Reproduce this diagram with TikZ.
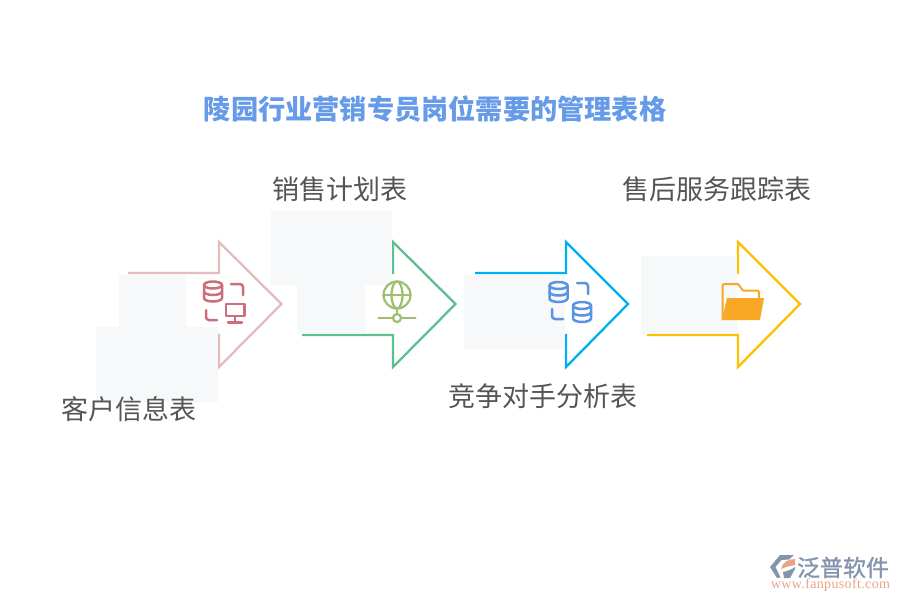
\documentclass[tikz,border=0pt]{standalone}
\usepackage{fontspec}
\setmainfont{Noto Sans CJK SC}
\newfontfamily\logoserif{Liberation Serif}
\newfontfamily\logofont[FakeBold=1.2]{Noto Sans CJK SC}
\definecolor{pa}{HTML}{E3BDBD}
\definecolor{pb}{HTML}{5CC08F}
\definecolor{pc}{HTML}{00B0F0}
\definecolor{pd}{HTML}{FFC000}
\definecolor{ired}{HTML}{CC6F7A}
\definecolor{igreen}{HTML}{9DC06F}
\definecolor{iblue}{HTML}{5B93E3}
\definecolor{iorange}{HTML}{F9A825}
\definecolor{patch}{HTML}{F6F8FA}
\definecolor{titlec}{HTML}{659BE8}
\definecolor{labelc}{HTML}{555555}
\definecolor{logob}{HTML}{8494AC}
\definecolor{logoo}{HTML}{E8A585}
\tikzset{
  arrowline/.style={line width=2.3pt,miter limit=10,line join=miter},
  patchbox/.style={fill=patch,draw=none},
  iconline/.style={line width=2.5pt,line cap=round,line join=round},
  lab/.style={font=\fontsize{27}{30}\selectfont,text=labelc,inner sep=0pt},
  titlelab/.style={font=\fontsize{27.2}{30}\selectfont\bfseries,text=titlec,inner sep=0pt},
}
\newcommand{\dbicon}[3]{% centre x, top y, colour
  \begin{scope}[shift={(#1,#2)},iconline,draw=#3]
    \draw (-9,3.5) arc[x radius=9,y radius=3.5,start angle=180,end angle=-180];
    \draw (-9,3.5) -- (-9,16.5) arc[x radius=9,y radius=3.5,start angle=180,end angle=0] -- (9,3.5);
    \draw (-9,10) arc[x radius=9,y radius=3.5,start angle=180,end angle=0];
  \end{scope}}
\begin{document}
\begin{tikzpicture}[x=1pt,y=-1pt]
\useasboundingbox (0,0) rectangle (900,600);
\fill[white] (0,0) rectangle (900,600);

% arrows
\draw[arrowline,pa] (128,273) -- (219,273) -- (219,242) -- (281.5,304) -- (219,367) -- (219,335) -- (128,335);
\draw[arrowline,pb] (302,273) -- (393,273) -- (393,242) -- (455.5,304) -- (393,367) -- (393,335) -- (302,335);
\draw[arrowline,pc] (475,273) -- (566,273) -- (566,242) -- (628,304) -- (566,367) -- (566,335) -- (475,335);
\draw[arrowline,pd] (647,273) -- (738,273) -- (738,242) -- (800,304) -- (738,367) -- (738,335) -- (647,335);

% pale patches
\fill[patchbox] (119,275) rectangle (186,327);
\fill[patchbox] (96,327) rectangle (218,402);
\fill[patchbox] (271,210) rectangle (392,286);
\fill[patchbox] (297,286) rectangle (365,334);
\fill[patchbox] (464,275) rectangle (565,350);
\fill[patchbox] (641,256) rectangle (737,334);

% icon 1
\dbicon{213}{281.5}{ired}
\draw[iconline,ired] (231,284) -- (240,284) arc[radius=3,start angle=-90,end angle=0] -- (243,295);
\draw[iconline,ired] (206,310) -- (206,317) arc[radius=3,start angle=180,end angle=90] -- (217,320);
\draw[iconline,ired] (226,304) rectangle (244.5,316);
\draw[iconline,ired] (235,316) -- (235,322);
\draw[iconline,ired] (228,322.5) -- (242,322.5);

% icon 2
\begin{scope}[iconline,igreen,line width=2.2pt]
  \draw (397,295) circle[radius=13.5];
  \draw (397,295) ellipse[x radius=5.5,y radius=13.5];
  \draw (383.5,295) -- (410.5,295);
  \draw (397,308.5) -- (397,314);
  \draw (397,318) circle[radius=4];
  \draw (378.5,318) -- (393,318);
  \draw (401,318) -- (415.5,318);
\end{scope}

% icon 3
\dbicon{558.5}{282}{iblue}
\dbicon{582}{302}{iblue}
\draw[iconline,iblue] (577,283) -- (585,283) arc[radius=3,start angle=-90,end angle=0] -- (588,294);
\draw[iconline,iblue] (552,309) -- (552,316) arc[radius=3,start angle=180,end angle=90] -- (563,319);

% icon 4
\draw[iorange,line width=2pt,line join=round] (722.5,320) -- (722.5,286) arc[radius=2,start angle=180,end angle=270] -- (738,284) -- (743,290.5) -- (757,290.5) arc[radius=2,start angle=-90,end angle=0] -- (759,298);
\fill[iorange] (727,298) -- (764,298) -- (760,320) -- (722,320) -- cycle;

% labels
\node[titlelab] (title) at (435,109.5) {陵园行业营销专员岗位需要的管理表格};
\node[lab] (l1) at (128.5,409) {客户信息表};
\node[lab] (l2) at (340,189) {销售计划表};
\node[lab] (l3) at (542.5,396) {竞争对手分析表};
\node[lab] (l4) at (716.5,189) {售后服务跟踪表};

% logo
\fill[logob] (780,555) -- (794,555) -- (789,559.5) -- (781.5,560) -- (775.5,567) -- (780.5,577.5) -- (777,578) -- (770,567) -- cycle;
\fill[logoo] (781,569) .. controls (782,562) and (789,559) .. (795,559) -- (795,565) .. controls (790,566) and (785,567) .. (781,569) -- cycle;
\fill[logob] (784,578) -- (790,578) -- (795,569) -- (795,567) .. controls (791,570) and (787,571) .. (783,572) -- cycle;
\node[inner sep=0pt,text=logob,font=\logofont\fontsize{23}{25}\selectfont] (logotext) at (843,567.5) {泛普软件};
\node[inner sep=0pt,text=logoo,font=\logoserif\fontsize{14}{15}\selectfont\addfontfeature{LetterSpace=2.5}] (logourl) at (830.5,585) {www.fanpusoft.com};
\end{tikzpicture}
\end{document}
